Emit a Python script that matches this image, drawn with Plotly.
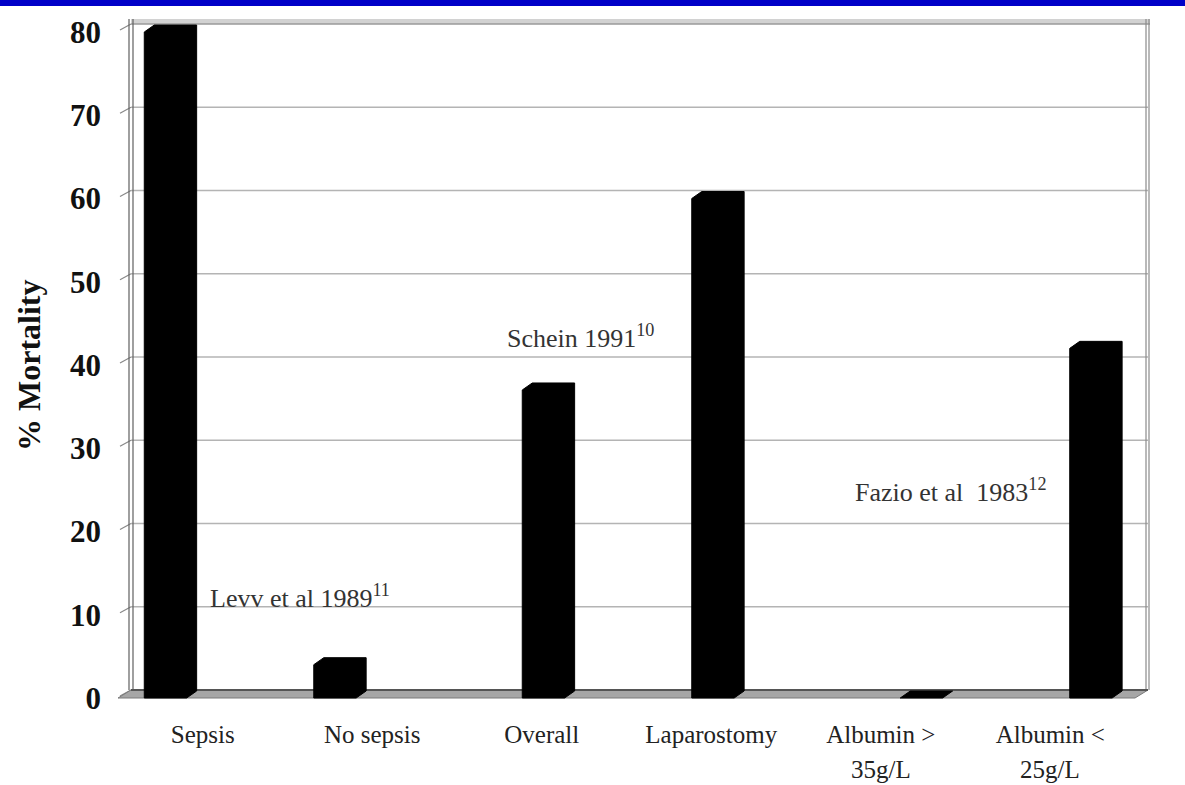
import plotly.graph_objects as go

# ---- data -------------------------------------------------------------
categories = ["Sepsis", "No sepsis", "Overall", "Laparostomy", "Albumin >", "Albumin <"]
category_line2 = ["", "", "", "", "35g/L", "25g/L"]
mortality = [80, 4, 37, 60, 0, 42]
study_group = [0, 0, 1, 1, 2, 2]          # which study each bar comes from
study_labels = ["Levv et al 1989<sup>11</sup>",
                "Schein 1991<sup>10</sup>",
                "Fazio et al  1983<sup>12</sup>"]
y_ticks = [0, 10, 20, 30, 40, 50, 60, 70, 80]

# ---- geometry / style -------------------------------------------------
W, H = 1185, 785
FRONT_LEFT, FRONT_RIGHT = 118, 1135     # front edge of the floor (px)
FRONT_ZERO, FRONT_TOP = 698, 32         # y px of value 0 and value 80 on the front plane
Y_MAX = 80
N = len(categories)

cat_px = (FRONT_RIGHT - FRONT_LEFT) / N
val_px = (FRONT_ZERO - FRONT_TOP) / Y_MAX

WALL_DX, WALL_DY = 13 / cat_px, 8 / val_px   # depth of the chart box
BAR_DX, BAR_DY = 10 / cat_px, 7 / val_px     # depth of each column
BAR_W = 0.25
GROUP_OFFSET = [-0.22, 0.01, 0.24]

SERIF = "Liberation Serif"
GRID = "#b4b4b4"
EDGE = "#606060"


def px_x(p):
    return p / W


def px_y(p):
    return 1 - p / H


fig = go.Figure()

# invisible trace that carries the labelled axes
fig.add_trace(go.Scatter(x=[-5], y=[-5], mode="markers", marker=dict(opacity=0),
                         showlegend=False, hoverinfo="skip", xaxis="x", yaxis="y"))

# ---- columns drawn as 3-D prisms (front face + top + side) -----------
xs, ys = [], []
for i, v in enumerate(mortality):
    c = i + GROUP_OFFSET[study_group[i]]
    x0, x1 = c - BAR_W / 2, c + BAR_W / 2
    xs += [x0, x0, x0 + BAR_DX, x1 + BAR_DX, x1 + BAR_DX, x1, x0, None]
    ys += [0, v, v + BAR_DY, v + BAR_DY, BAR_DY, 0, 0, None]
fig.add_trace(go.Scatter(x=xs, y=ys, mode="lines", fill="toself",
                         fillcolor="black", line=dict(color="black", width=1),
                         showlegend=False, hoverinfo="skip", xaxis="x2", yaxis="y2"))

shapes = []
bx0, bx1 = -0.5 + WALL_DX, N - 0.5 + WALL_DX

# back wall gridlines
for t in y_ticks[1:-1]:
    shapes.append(dict(type="line", xref="x2", yref="y2", layer="below",
                       x0=bx0, x1=bx1, y0=t + WALL_DY, y1=t + WALL_DY,
                       line=dict(color=GRID, width=1.6)))
# short strokes on the left wall at each tick
for t in y_ticks:
    shapes.append(dict(type="line", xref="x2", yref="y2", layer="below",
                       x0=-0.5 + 2 / cat_px, x1=bx0, y0=t + 2 / val_px, y1=t + WALL_DY,
                       line=dict(color="#888888", width=1.2)))

# top rim of the back wall
shapes.append(dict(type="rect", xref="x2", yref="y2", layer="below",
                   x0=bx0, x1=bx1 + 2 / cat_px, y0=Y_MAX + WALL_DY, y1=Y_MAX + WALL_DY + 5 / val_px,
                   fillcolor="#d2d2d2", line=dict(width=0)))
shapes.append(dict(type="line", xref="x2", yref="y2", layer="below",
                   x0=bx0, x1=bx1 + 2 / cat_px, y0=Y_MAX + WALL_DY, y1=Y_MAX + WALL_DY,
                   line=dict(color="#9a9a9a", width=1.5)))

# left wall seen edge-on (double line) and right wall edge
for off in (-2, 2):
    xx = bx0 + off / cat_px
    shapes.append(dict(type="line", xref="x2", yref="y2", layer="below",
                       x0=xx, x1=xx, y0=WALL_DY, y1=Y_MAX + WALL_DY + 5 / val_px,
                       line=dict(color=EDGE, width=1.2)))
for off in (-2, 1):
    xx = bx1 + off / cat_px
    shapes.append(dict(type="line", xref="x2", yref="y2", layer="below",
                       x0=xx, x1=xx, y0=WALL_DY, y1=Y_MAX + WALL_DY + 5 / val_px,
                       line=dict(color="#8a8a8a", width=1.2)))

# floor
floor_path = (f"M {-0.5} 0 L {N - 0.5} 0 L {bx1} {WALL_DY} "
              f"L {bx0} {WALL_DY} Z")
shapes.append(dict(type="path", xref="x2", yref="y2", layer="below", path=floor_path,
                   fillcolor="#a6a6a6", line=dict(color="#7a7a7a", width=1)))
shapes.append(dict(type="line", xref="x2", yref="y2", layer="below",
                   x0=bx0, x1=bx1, y0=WALL_DY, y1=WALL_DY,
                   line=dict(color="#555555", width=2)))

# blue band across the top of the page
shapes.append(dict(type="rect", xref="paper", yref="paper", x0=0, x1=1,
                   y0=px_y(6), y1=1, fillcolor="#0000c8", line=dict(width=0)))

# ---- text -------------------------------------------------------------
annotations = []
# second line of category labels
for i, t in enumerate(category_line2):
    if t:
        annotations.append(dict(text=t, xref="x", yref="paper", x=i, y=px_y(769),
                                showarrow=False, xanchor="center", yanchor="middle",
                                font=dict(family=SERIF, size=25, color="#222222")))
# study captions
study_pos = [(300, 596), (580, 336), (951, 490)]
for lbl, (cx, cy) in zip(study_labels, study_pos):
    annotations.append(dict(text=lbl, xref="paper", yref="paper", x=px_x(cx), y=px_y(cy),
                            showarrow=False, xanchor="center", yanchor="middle",
                            font=dict(family=SERIF, size=26, color="#333333")))
# y-axis title
annotations.append(dict(text="% Mortality", xref="paper", yref="paper",
                        x=px_x(29), y=px_y(365), textangle=-90, showarrow=False,
                        xanchor="center", yanchor="middle",
                        font=dict(family=SERIF, size=32, color="#111111", weight=700)))

fig.update_layout(
    template="none",
    width=W, height=H,
    margin=dict(l=0, r=0, t=0, b=0, pad=0),
    paper_bgcolor="white", plot_bgcolor="rgba(0,0,0,0)",
    showlegend=False, hovermode=False,
    shapes=shapes, annotations=annotations,
    xaxis=dict(domain=[px_x(FRONT_LEFT), px_x(FRONT_RIGHT)], range=[-0.5, N - 0.5],
               tickmode="array", tickvals=list(range(N)), ticktext=categories,
               showgrid=False, zeroline=False, showline=False, ticks="",
               ticklabelstandoff=19, anchor="y", automargin=False,
               tickfont=dict(family=SERIF, size=25, color="#222222")),
    yaxis=dict(domain=[px_y(FRONT_ZERO), px_y(FRONT_TOP)], range=[0, Y_MAX],
               tickmode="array", tickvals=y_ticks,
               showgrid=False, zeroline=False, showline=False, ticks="",
               ticklabelstandoff=16, anchor="x", automargin=False,
               tickfont=dict(family=SERIF, size=31, color="#111111", weight=700)),
    xaxis2=dict(domain=[0, 1], anchor="y2", visible=False, automargin=False,
                range=[-0.5 - FRONT_LEFT / cat_px, -0.5 + (W - FRONT_LEFT) / cat_px]),
    yaxis2=dict(domain=[0, 1], anchor="x2", visible=False, automargin=False,
                range=[-(H - FRONT_ZERO) / val_px, FRONT_ZERO / val_px]),
)

fig.write_html("out.html")
